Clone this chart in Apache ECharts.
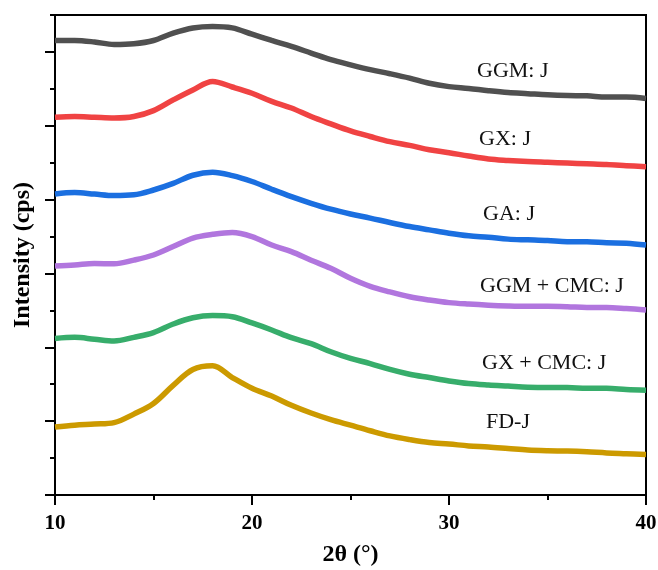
<!DOCTYPE html>
<html>
<head>
<meta charset="utf-8">
<script src="https://cdn.jsdelivr.net/npm/echarts@6/dist/echarts.min.js"></script>
<style>
  html, body { margin: 0; padding: 0; background: #fff; }
  #chart { width: 658px; height: 570px; }
</style>
</head>
<body>
<div id="chart"></div>
<script>
// 2theta positions (deg)
var twoTheta = [10, 11, 12, 13, 14, 15, 16, 17, 18, 19, 20, 21, 22, 23, 24, 25,
  26, 27, 28, 29, 30, 31, 32, 33, 34, 35, 36, 37, 38, 39, 40];

// intensities as plotted (stacked, arbitrary units)
var ggmJ = [1231, 1231, 1227, 1220, 1222, 1231, 1251, 1265, 1269, 1265, 1248, 1231, 1215, 1197, 1179, 1165,
  1152, 1141, 1129, 1115, 1106, 1101, 1095, 1090, 1087, 1084, 1082, 1081, 1078, 1078, 1074];
var gxJ = [1023, 1025, 1023, 1021, 1025, 1041, 1070, 1097, 1120, 1105, 1088, 1066, 1048, 1025, 1005, 986,
  971, 957, 947, 935, 927, 918, 910, 906, 903, 901, 899, 897, 895, 892, 889];
var gaJ = [815, 819, 815, 811, 813, 826, 844, 866, 874, 865, 849, 828, 808, 790, 774, 761,
  750, 738, 727, 718, 709, 702, 698, 693, 691, 689, 686, 686, 683, 682, 677];
var ggmCmcJ = [620, 623, 627, 626, 636, 650, 673, 696, 706, 711, 700, 677, 659, 636, 614, 587,
  565, 550, 537, 528, 521, 517, 514, 512, 511, 511, 510, 508, 508, 505, 501];
var gxCmcJ = [424, 427, 422, 417, 427, 440, 463, 480, 486, 483, 466, 447, 426, 410, 388, 370,
  356, 340, 327, 318, 309, 302, 298, 295, 292, 291, 291, 289, 289, 286, 284];
var fdJ = [184, 189, 192, 196, 219, 248, 297, 340, 350, 318, 289, 268, 243, 222, 204, 189,
  174, 160, 150, 142, 138, 133, 130, 126, 122, 120, 119, 117, 114, 112, 110];

var seriesNames = ['GGM: J', 'GX: J', 'GA: J', 'GGM + CMC: J', 'GX + CMC: J', 'FD-J'];
var seriesValues = [ggmJ, gxJ, gaJ, ggmCmcJ, gxCmcJ, fdJ];
var seriesColors = ['#505050', '#f04343', '#1b6fe0', '#b176de', '#37ad6b', '#cc9a00'];

var xTicks = [10, 20, 30, 40];
var yMajorTicks = [0, 200, 400, 600, 800, 1000, 1200];

var chart = echarts.init(document.getElementById('chart'));

var series = seriesValues.map(function (vals, k) {
  return {
    name: seriesNames[k],
    type: 'line',
    showSymbol: false,
    smooth: 0.35,
    silent: true,
    lineStyle: { color: seriesColors[k], width: 5.5 },
    data: twoTheta.map(function (t, i) { return [t, vals[i]]; })
  };
});

// curve labels, placed next to each trace on the right
var labelPos = [[477, 72], [479, 140], [483, 215], [480, 287], [482, 364], [486, 423]];
var graphics = seriesNames.map(function (name, k) {
  return {
    type: 'text',
    left: labelPos[k][0],
    top: labelPos[k][1] - 12,
    style: {
      text: name,
      fill: '#111',
      font: '22px "Liberation Serif"'
    }
  };
});

var option = {
  animation: false,
  backgroundColor: '#fff',
  grid: {
    left: 55, right: 12, top: 15, bottom: 75,
    outerBoundsMode: 'none',
    containLabel: false,
    show: true, borderColor: '#000', borderWidth: 2
  },
  xAxis: {
    type: 'value',
    min: 10, max: 40, interval: 10,
    name: '2θ (°)',
    nameLocation: 'middle',
    nameGap: 48,
    nameTextStyle: { fontFamily: 'Liberation Serif', fontWeight: 'bold', fontSize: 24, color: '#000' },
    axisLine: { lineStyle: { color: '#000', width: 2 } },
    axisTick: { length: 10, lineStyle: { width: 2, color: '#000' }, customValues: xTicks },
    minorTick: { show: true, splitNumber: 2, length: 5, lineStyle: { width: 2, color: '#000' } },
    splitLine: { show: false },
    axisLabel: {
      customValues: xTicks,
      margin: 18,
      fontFamily: 'Liberation Serif', fontWeight: 'bold', fontSize: 21, color: '#000'
    }
  },
  yAxis: [{
    type: 'value',
    min: 0, max: 1300, interval: 100,
    name: 'Intensity (cps)',
    nameLocation: 'middle',
    nameGap: 20,
    nameTextStyle: { fontFamily: 'Liberation Serif', fontWeight: 'bold', fontSize: 24, color: '#000' },
    axisLine: { lineStyle: { color: '#000', width: 2 } },
    axisTick: { length: 5, lineStyle: { width: 2, color: '#000' } },
    axisLabel: { show: false },
    splitLine: { show: false }
  }, {
    type: 'value',
    min: 0, max: 1300,
    position: 'left',
    axisLine: { show: false },
    axisTick: { show: true, length: 10, customValues: yMajorTicks, lineStyle: { width: 2, color: '#000' } },
    axisLabel: { show: false },
    splitLine: { show: false }
  }],
  graphic: graphics,
  series: series
};

chart.setOption(option);
</script>
</body>
</html>
